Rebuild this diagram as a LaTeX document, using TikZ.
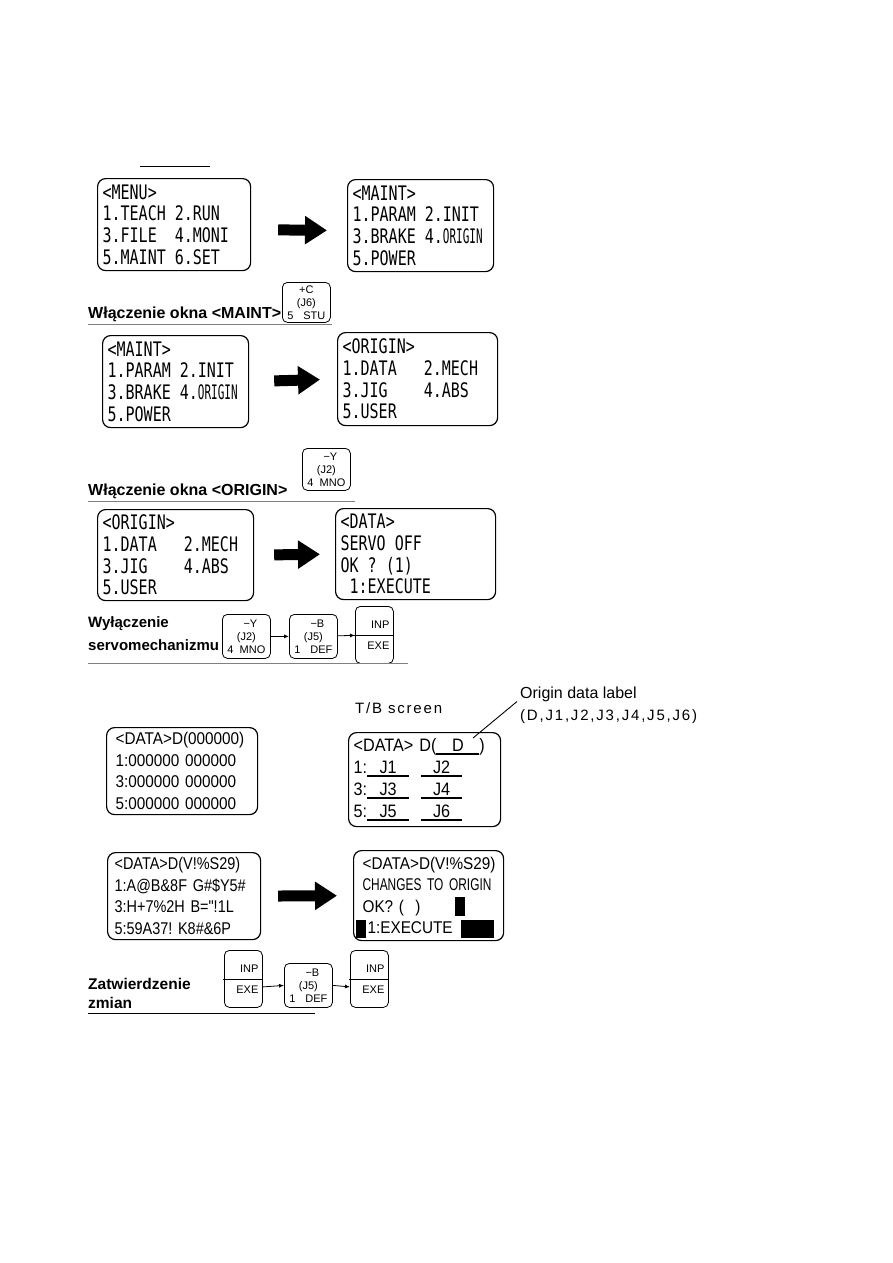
\documentclass[tikz,border=0pt]{standalone}
\usepackage{fontspec}
\setmainfont{Liberation Sans}
\newfontfamily\lcdfont[FakeStretch=0.75]{DejaVu Sans Mono}
\newfontfamily\lcdnarrow[FakeStretch=0.55]{DejaVu Sans Mono}
\newfontfamily\tbfont[FakeStretch=0.9]{Liberation Sans}
\newfontfamily\datafont[FakeStretch=0.85]{Liberation Sans}
\newfontfamily\tbnarrow[FakeStretch=0.70]{Liberation Sans}
\newfontfamily\widefont[LetterSpace=12]{Liberation Sans}
\usetikzlibrary{arrows.meta,positioning,calc}

% underlined field on the T/B screen
\newcommand\slot[2]{\rlap{\rule[-3pt]{#1}{1.6pt}}\makebox[#1]{#2}}
\newcommand\keytxt[3]{#1\\#2\\\makebox[38pt]{#3}}
% one empty LCD cell
\newcommand\blank{\phantom{0}}

\begin{document}
\begin{tikzpicture}[x=1pt, y=-1pt, line join=round,
  screen/.style={draw, rounded corners=8pt, line width=1.2pt, anchor=north west,
    inner xsep=5pt, inner ysep=0pt, align=left},
  lcd/.style={font=\lcdfont\fontsize{20}{21.7}\selectfont},
  tb/.style={inner xsep=9pt, font=\tbfont\fontsize{17}{21.5}\selectfont},
  keycap/.style={draw, rounded corners=5pt, line width=0.8pt, anchor=north west,
    minimum width=48pt, minimum height=44pt, inner sep=0pt, text width=38pt,
    align=center, font=\fontsize{11}{13}\selectfont},
  inpkey/.style={draw, rounded corners=5pt, line width=0.8pt, anchor=north west,
    minimum width=38pt, minimum height=57pt, inner sep=0pt, text width=30pt,
    align=right, font=\fontsize{11}{21}\selectfont},
  capt/.style={anchor=base west, align=left, inner sep=0pt,
    font=\bfseries\fontsize{16}{22}\selectfont},
  bigarrow/.style={line width=11pt, -{Triangle[length=22pt,width=27pt]}},
  keyarrow/.style={line width=0.8pt, -{Latex[length=5pt,width=4pt]}},
  rule/.style={line width=0.9pt, gray}]
  \useasboundingbox (0,0) rectangle (893,1263);

  \draw[line width=1pt] (140,166) -- (210,166);

  % menu -> maint
  \node[screen, lcd, text width=143pt, minimum height=92pt] (menuA) at (97,178)
    {<MENU>\\1.TEACH\blank 2.RUN\\3.FILE\blank\blank 4.MONI\\5.MAINT\blank 6.SET};
  \node[screen, lcd, text width=136pt, minimum height=92pt] (maintA) at (347,179)
    {<MAINT>\\1.PARAM\blank 2.INIT\\3.BRAKE\blank 4.{\lcdnarrow ORIGIN}\\5.POWER};
  \draw[bigarrow, shorten <=27pt, shorten >=20pt]
    ([yshift=-5pt]menuA.east) -- ([yshift=-5pt]maintA.west);
  \node[keycap, minimum height=40pt] (keyC) at (282,282) {\keytxt{+C}{(J6)}{5\hfill STU}};
  \node[capt] (captA) at (88,318) {Włączenie okna <MAINT>};
  \draw[rule] (88,324) -- (332,324);

  % maint -> origin
  \node[screen, lcd, text width=136pt, minimum height=92pt] (maintB) at (102,335)
    {<MAINT>\\1.PARAM\blank 2.INIT\\3.BRAKE\blank 4.{\lcdnarrow ORIGIN}\\5.POWER};
  \node[screen, lcd, text width=150pt, minimum height=93pt] (originA) at (337,332)
    {<ORIGIN>\\1.DATA\blank\blank\blank 2.MECH\\3.JIG\blank\blank\blank\blank 4.ABS\\5.USER};
  \draw[bigarrow, shorten <=25pt, shorten >=17pt] (maintB.east) -- (originA.west);
  \node[keycap, minimum height=42pt] (keyY) at (302,448) {\keytxt{\hspace*{8pt}−Y}{(J2)}{4\hfill MNO}};
  \node[capt] (captB) at (88,495) {Włączenie okna <ORIGIN>};
  \draw[rule] (88,501) -- (355,501);

  % origin -> data, servo off
  \node[screen, lcd, text width=146pt, minimum height=91pt] (originB) at (97,509)
    {<ORIGIN>\\1.DATA\blank\blank\blank 2.MECH\\3.JIG\blank\blank\blank\blank 4.ABS\\5.USER};
  \node[screen, lcd, text width=150pt, minimum height=91pt] (dataA) at (335,508)
    {<DATA>\\SERVO\blank OFF\\OK\blank ?\blank (1)\\\blank 1:EXECUTE};
  \draw[bigarrow, shorten <=20pt, shorten >=15pt] (originB.east) -- (dataA.west);
  \node[capt, font=\bfseries\fontsize{15}{23}\selectfont] (captC) at (88,650) {Wyłączenie\\servomechanizmu};
  \node[keycap] (keyY2) at (222,614) {\keytxt{\hspace*{8pt}−Y}{(J2)}{4\hfill MNO}};
  \node[keycap] (keyB) at (289,614) {\keytxt{\hspace*{8pt}−B}{(J5)}{1\hfill DEF}};
  \node[inpkey] (inpA) at (355,606) {INP\\EXE};
  \draw[line width=0.8pt] ([xshift=-1pt]inpA.west) -- (inpA.east);
  \draw[keyarrow] (keyY2) -- (keyB);
  \draw[keyarrow] (keyB) -- (inpA);
  \draw[rule] (88,663) -- (408,663);

  % origin data screen
  \node[screen, tb, text width=133pt, minimum height=87pt] (zeros) at (106,727)
    {<DATA>D(000000)\\1:000000~000000\\3:000000~000000\\5:000000~000000};
  \node[anchor=base west, inner sep=0pt, font=\widefont\fontsize{15}{15}\selectfont] (tbtitle) at (355,713) {T/B screen};
  \node[anchor=base west, inner sep=0pt, font=\fontsize{16}{16}\selectfont] (olabel) at (520,698) {Origin data label};
  \node[anchor=base west, inner sep=0pt, font=\widefont\fontsize{15}{15}\selectfont] (olist) at (520,720) {(D,J1,J2,J3,J4,J5,J6)};
  \node[screen, inner xsep=5pt, font=\tbfont\fontsize{18}{22}\selectfont, text width=142pt, minimum height=94pt] (tbscr) at (348,732)
    {<DATA> D(\slot{43pt}{D})\\1:\slot{42pt}{J1}\hspace{12pt}\slot{41pt}{J2}\\3:\slot{42pt}{J3}\hspace{12pt}\slot{41pt}{J4}\\5:\slot{42pt}{J5}\hspace{12pt}\slot{41pt}{J6}};
  \coordinate (dmark) at (473,738);
  \draw[line width=0.9pt] ([xshift=-3pt]olabel.south west) -- (dmark);

  % changes to origin
  \node[screen, tb, inner xsep=7pt, font=\datafont\fontsize{17}{21.5}\selectfont, text width=139pt, minimum height=87pt] (newdata) at (107,852)
    {<DATA>D(V!\%S29)\\1:A@B\&8F~G\#\$Y5\#\\3:H+7\%2H~B="!1L\\5:59A37!~K8\#\&6P};
  \node[screen, tb, text width=132pt, minimum height=90pt] (confirm) at (353,850)
    {<DATA>D(V!\%S29)\\\mbox{\tbnarrow CHANGES~TO~ORIGIN}\\OK?~(~~)\\\hspace*{5pt}1:EXECUTE};
  \draw[bigarrow, shorten <=17pt, shorten >=16pt] (newdata.east) -- (confirm.west);
  \fill (455,897) rectangle (465,916);
  \fill (356,920) rectangle (366,938);
  \fill (461,920) rectangle (494,938);
  \node[capt, font=\bfseries\fontsize{15.5}{19}\selectfont] (captD) at (88,1008) {Zatwierdzenie\\zmian};
  \node[inpkey] (inpB) at (224,950) {INP\\EXE};
  \node[keycap] (keyB2) at (284,963) {\keytxt{\hspace*{8pt}−B}{(J5)}{1\hfill DEF}};
  \node[inpkey] (inpC) at (350,950) {INP\\EXE};
  \draw[line width=0.8pt] ([xshift=-1pt]inpB.west) -- (inpB.east);
  \draw[line width=0.8pt] ([xshift=-1pt]inpC.west) -- (inpC.east);
  \draw[keyarrow] ([yshift=-8pt]inpB.east) -- (keyB2.west);
  \draw[keyarrow] (keyB2.east) -- ([yshift=-8pt]inpC.west);
  \draw[line width=1pt] (88,1013) -- (315,1013);
\end{tikzpicture}
\end{document}
